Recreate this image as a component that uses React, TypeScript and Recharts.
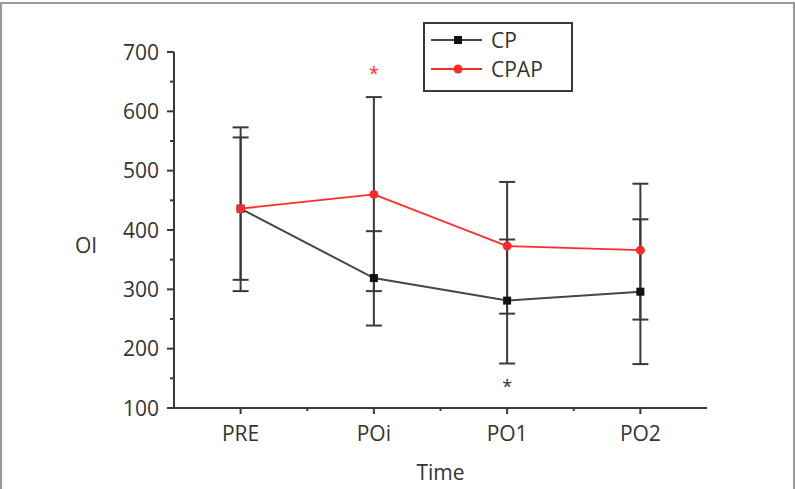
import React from 'react';
import { LineChart, Line, XAxis, YAxis, ErrorBar, ReferenceDot, Label } from 'recharts';

// Time points on the x axis
const timePoints = ['PRE', 'POi', 'PO1', 'PO2'];

// CP group: mean OI and error deltas (below / above the mean)
const cpMeans = [436, 319, 281, 296];
const cpLower = [120, 80, 106, 122];
const cpUpper = [120, 79, 103, 122];

// CPAP group: mean OI and error deltas (below / above the mean)
const cpapMeans = [436, 460, 373, 366];
const cpapLower = [139, 163, 114, 117];
const cpapUpper = [137, 164, 108, 112];

// Significance markers (time index, OI level)
const cpapStars = [{ idx: 1, value: 673 }];
const cpStars = [{ idx: 2, value: 145 }];

// Axis ticks: majors every 100, minors halfway between
const yTicks = [100, 150, 200, 250, 300, 350, 400, 450, 500, 550, 600, 650, 700];
const xTicks = [0, 0.5, 1, 1.5, 2, 2.5, 3];

const FONT = '"Open Sans", sans-serif';
const AXIS = '#3a3a3a';
const TEXT = '#333333';
const RED = '#ff2b2b';
const DARK = '#474747';

const data = timePoints.map((t, i) => ({
  idx: i,
  label: t,
  cp: cpMeans[i],
  cpErr: [cpLower[i], cpUpper[i]],
  cpap: cpapMeans[i],
  cpapErr: [cpapLower[i], cpapUpper[i]],
}));

const YTick = (props: any) => {
  const { x, y, payload } = props;
  const major = payload.value % 100 === 0;
  return (
    <g>
      <line x1={x - (major ? 7 : 4)} y1={y} x2={x} y2={y} stroke={AXIS} strokeWidth={2} />
      {major && (
        <text x={x - 15} y={y} dy={7.5} textAnchor="end" fontFamily={FONT} fontSize={21} fill={TEXT}>
          {payload.value}
        </text>
      )}
    </g>
  );
};

const XTick = (props: any) => {
  const { x, y, payload } = props;
  const major = Number.isInteger(payload.value);
  return (
    <g>
      <line x1={x} y1={y} x2={x} y2={y + (major ? 6 : 3)} stroke={AXIS} strokeWidth={2} />
      {major && (
        <text x={x} y={y + 33} textAnchor="middle" fontFamily={FONT} fontSize={21} fill={TEXT}>
          {timePoints[payload.value]}
        </text>
      )}
    </g>
  );
};

const starLabel = (color: string) => (props: any) => {
  const vb = props.viewBox || {};
  const cx = vb.x + (vb.width || 0) / 2;
  const cy = vb.y + (vb.height || 0) / 2;
  return (
    <text x={cx} y={cy} dy={12} textAnchor="middle" fontFamily={FONT} fontSize={18} fill={color}>
      *
    </text>
  );
};

const squareDot = (p: any) => (
  <rect key={`sq-${p.index}`} x={p.cx - 4} y={p.cy - 4} width={8} height={8} fill="#111" />
);

const LegendBox = () => (
  <div
    style={{
      position: 'absolute',
      left: 423,
      top: 22,
      width: 146,
      height: 66,
      border: `2px solid ${AXIS}`,
      background: '#fff',
    }}
  >
    <svg width={146} height={66} style={{ position: 'absolute', left: 0, top: 0 }}>
      <line x1={6} y1={16} x2={57} y2={16} stroke={DARK} strokeWidth={2} />
      <rect x={29} y={12} width={8} height={8} fill="#111" />
      <text x={66} y={16} dy={7.5} fontFamily={FONT} fontSize={21} fill={TEXT}>CP</text>
      <line x1={6} y1={45} x2={57} y2={45} stroke={RED} strokeWidth={2} />
      <circle cx={33} cy={45} r={4.5} fill={RED} />
      <text x={66} y={45} dy={7.5} fontFamily={FONT} fontSize={21} fill={TEXT}>CPAP</text>
    </svg>
  </div>
);

export default function App() {
  return (
    <div style={{ position: 'fixed', left: 0, top: 0, width: 795, height: 489, background: '#fff', overflow: 'hidden' }}>
      <div
        style={{
          position: 'absolute',
          left: 0,
          top: 2,
          width: 791,
          height: 492,
          border: '2px solid #999',
        }}
      />
      <LineChart
        width={795}
        height={489}
        data={data}
        margin={{ top: 52, right: 88, bottom: 0, left: 0 }}
        style={{ position: 'absolute', left: 0, top: 0 }}
      >
        <XAxis
          dataKey="idx"
          type="number"
          domain={[-0.5, 3.5]}
          ticks={xTicks}
          interval={0}
          allowDataOverflow
          height={81}
          tickSize={0}
          tickMargin={0}
          tickLine={false}
          tick={<XTick />}
          axisLine={{ stroke: AXIS, strokeWidth: 2 }}
        >
          <Label value="Time" position="insideBottom" offset={9} fontFamily={FONT} fontSize={21} fill={TEXT} />
        </XAxis>
        <YAxis
          type="number"
          domain={[100, 700]}
          ticks={yTicks}
          interval={0}
          allowDataOverflow
          width={174}
          tickSize={0}
          tickMargin={0}
          tickLine={false}
          tick={<YTick />}
          axisLine={{ stroke: AXIS, strokeWidth: 2 }}
        >
          <Label value="OI" position="insideLeft" offset={75} dy={16} fontFamily={FONT} fontSize={21} fill={TEXT} />
        </YAxis>
        <Line
          dataKey="cp"
          stroke={DARK}
          strokeWidth={2}
          dot={squareDot}
          activeDot={false}
          isAnimationActive={false}
        >
          <ErrorBar dataKey="cpErr" direction="y" width={8} stroke={AXIS} strokeWidth={2} />
        </Line>
        <Line
          dataKey="cpap"
          stroke={RED}
          strokeWidth={1.8}
          dot={{ r: 4.5, fill: RED, stroke: RED, strokeWidth: 0 }}
          activeDot={false}
          isAnimationActive={false}
        >
          <ErrorBar dataKey="cpapErr" direction="y" width={8} stroke={AXIS} strokeWidth={2} />
        </Line>
        {cpapStars.map((s) => (
          <ReferenceDot key={`r${s.idx}`} x={s.idx} y={s.value} r={0} fill="none" stroke="none" label={starLabel(RED)} />
        ))}
        {cpStars.map((s) => (
          <ReferenceDot key={`c${s.idx}`} x={s.idx} y={s.value} r={0} fill="none" stroke="none" label={starLabel(TEXT)} />
        ))}
      </LineChart>
      <LegendBox />
    </div>
  );
}
